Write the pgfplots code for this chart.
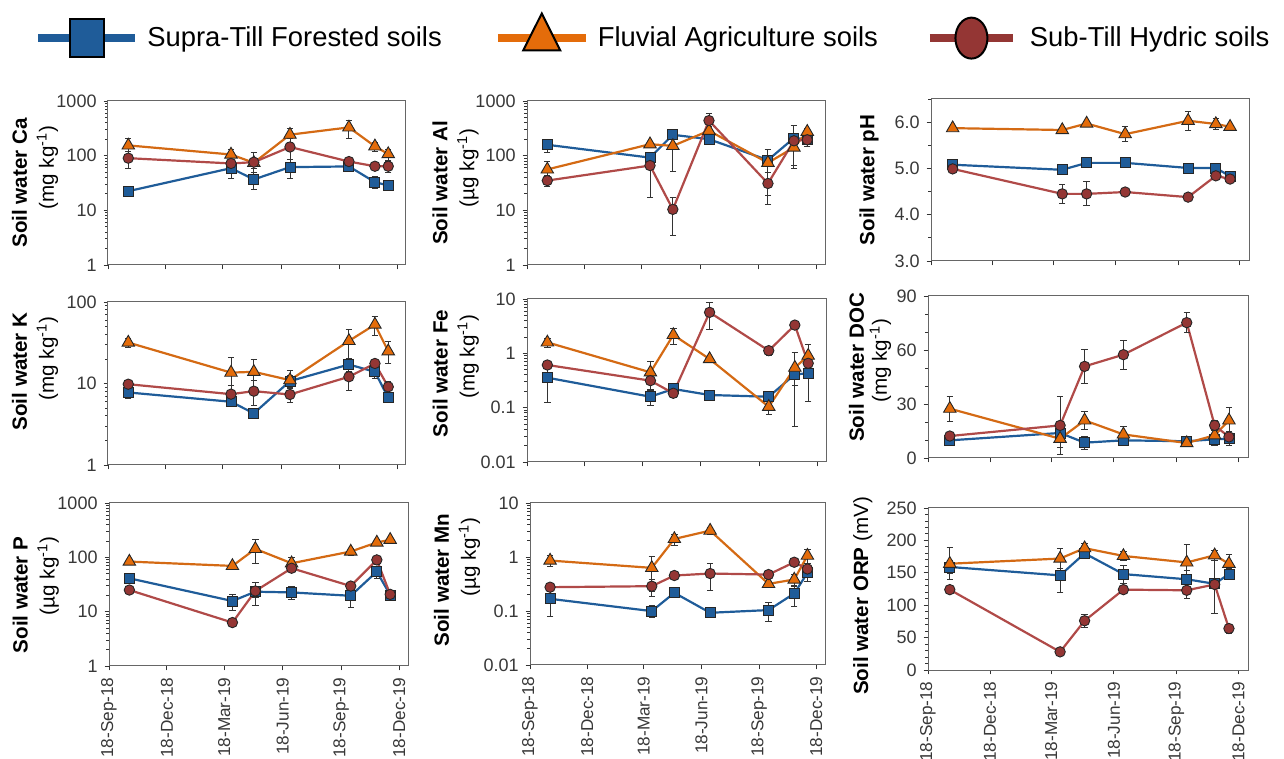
\documentclass[border=0pt]{standalone}
\usepackage{fontspec}
\setmainfont{Liberation Sans}
\usepackage{pgfplots}
\pgfplotsset{compat=1.18}

\definecolor{cBlue}{HTML}{1F5C99}
\definecolor{cOrange}{HTML}{E46C0A}
\definecolor{cOrangeL}{HTML}{D46A14}
\definecolor{cRed}{HTML}{943634}
\definecolor{cRedL}{HTML}{B04A48}

\pgfplotsset{
 sB/.style={cBlue, line width=1.1pt, mark=square*, mark size=2.5pt,
   mark options={solid, fill=cBlue, draw=black!85, line width=0.45pt}, forget plot,
   error bars/y dir=both, error bars/y explicit,
   error bars/error bar style={black!80, line width=0.45pt},
   error bars/error mark options={rotate=90, black!80, mark size=1.6pt, line width=0.45pt}},
 sO/.style={cOrangeL, line width=1.1pt, mark=triangle*, mark size=3.6pt,
   mark options={solid, fill=cOrange, draw=black!85, line width=0.45pt}, forget plot,
   error bars/y dir=both, error bars/y explicit,
   error bars/error bar style={black!80, line width=0.45pt},
   error bars/error mark options={rotate=90, black!80, mark size=1.6pt, line width=0.45pt}},
 sR/.style={cRedL, line width=1.1pt, mark=*, mark size=2.6pt,
   mark options={solid, fill=cRed, draw=black!85, line width=0.45pt}, forget plot,
   error bars/y dir=both, error bars/y explicit,
   error bars/error bar style={black!80, line width=0.45pt},
   error bars/error mark options={rotate=90, black!80, mark size=1.6pt, line width=0.45pt}},
 legA/.style={legend image code/.code={\draw[mark repeat=2, mark phase=2, ##1] plot coordinates {(0pt,0pt) (24.25pt,0pt) (48.5pt,0pt)}; \path (50.5pt,0pt);}},
 legB/.style={legend image code/.code={\draw[mark repeat=2, mark phase=2, ##1] plot coordinates {(0pt,0pt) (22pt,0pt) (44pt,0pt)}; \path (46pt,0pt);}},
 legC/.style={legend image code/.code={\draw[mark repeat=2, mark phase=2, ##1] plot coordinates {(0pt,0pt) (20.75pt,0pt) (41.5pt,0pt)}; \path (46pt,0pt);}},
 panel/.style={
  scale only axis, anchor=north west,
  xmin=0, xmax=470, xtick={0,91,181,273,365,456}, xticklabels={},
  tick align=outside, xtick pos=left, ytick pos=left,
  major tick length=2.2pt, minor tick length=1.3pt,
  axis line style={black!60, line width=0.5pt},
  every tick/.style={black!80, line width=0.45pt},
  tick label style={font=\fontsize{9}{10}\selectfont, text=black!78},
  clip=false,
  every axis y label/.style={rotate=90, anchor=center, align=center,
     font=\fontsize{10.3}{13.5}\selectfont, text=black},
 },
 datex/.style={xticklabels={18-Sep-18,18-Dec-18,18-Mar-19,18-Jun-19,18-Sep-19,18-Dec-19},
   x tick label style={rotate=90, anchor=east, font=\fontsize{8.6}{10}\selectfont}},
}

\begin{document}
\begin{tikzpicture}
\useasboundingbox (0,0) rectangle (642pt,379.5pt);

% ---------- Ca ----------
\begin{axis}[panel, at={(54pt,329pt)}, width=149pt, height=82pt,
  ymode=log, ymin=1, ymax=1000, ytick={1,10,100,1000}, yticklabels={1,10,100,1000},
  minor ytick={2,3,4,5,6,7,8,9,20,30,40,50,60,70,80,90,200,300,400,500,600,700,800,900},
  ylabel={{\bfseries Soil water Ca}\\\hspace*{15.5pt}(mg kg\textsuperscript{-1})},
  ylabel style={at={(axis description cs:-0.245,0.5)}},
  legend columns=3,
  legend style={at={(axis description cs:-0.2484,1.396)}, anchor=west, draw=none, fill=none,
    inner sep=0pt, font=\fontsize{13.7}{16}\selectfont,
    /tikz/column 2/.style={column sep=24pt}, /tikz/column 4/.style={column sep=22pt}}]
\addlegendimage{legA, cBlue, line width=4pt, mark=square*, mark size=8.5pt,
   mark options={solid, fill=cBlue, draw=black, line width=1pt, yscale=1.1}}
\addlegendentry{Supra-Till Forested soils}
\addlegendimage{legB, cOrange, line width=4pt, mark=triangle*, mark size=10.7pt,
   mark options={solid, fill=cOrange, draw=black, line width=1pt, yscale=1.15}}
\addlegendentry{Fluvial Agriculture soils}
\addlegendimage{legC, cRed, line width=4pt, mark=*, mark size=8pt,
   mark options={solid, fill=cRed, draw=black, line width=1pt, yscale=1.28}}
\addlegendentry{Sub-Till Hydric soils}
\addplot[sB] coordinates {(32,22.4)+-(0,4) (194,59)+-(0,20) (230,36.7)+-(0,13) (287,61.7)+-(0,24) (380,63.5)+-(0,8) (421,32.8)+-(0,8) (442,28.5)+-(0,3)};
\addplot[sO] coordinates {(32,154)+-(0,56) (194,105)+-(0,25) (230,74)+-(0,15) (287,242)+-(0,70) (380,329)+-(0,120) (421,148)+-(0,30) (442,107)+-(0,25)};
\addplot[sR] coordinates {(32,90)+-(0,31) (194,72)+-(0,12) (230,76)+-(0,40) (287,144)+-(0,60) (380,78)+-(0,8) (421,64)+-(0,10) (442,64)+-(0,15)};
\end{axis}

% ---------- Al ----------
\begin{axis}[panel, at={(263.5pt,329pt)}, width=149pt, height=82pt,
  ymode=log, ymin=1, ymax=1000, ytick={1,10,100,1000}, yticklabels={1,10,100,1000},
  minor ytick={2,3,4,5,6,7,8,9,20,30,40,50,60,70,80,90,200,300,400,500,600,700,800,900},
  ylabel={{\bfseries Soil water Al}\\\hspace*{15pt}(µg kg\textsuperscript{-1})},
  ylabel style={at={(axis description cs:-0.24,0.5)}}]
\addplot[sB] coordinates {(32,158)+-(0,42) (194,92)+-(0,10) (230,241)+-(0,30) (287,200)+-(0,20) (380,83)+-(0,20) (421,210)+-(0,145) (442,200)+-(0,50)};
\addplot[sO] coordinates {(32,56)+-(0,23) (194,162)+-(0,20) (230,151)+-(0,100) (287,286)+-(0,60) (380,74)+-(0,55) (421,141)+-(0,83) (442,274)+-(0,40)};
\addplot[sR] coordinates {(32,35)+-(0,8) (194,66)+-(0,49) (230,10.4)+-(0,7) (287,438)+-(0,145) (380,31)+-(0,18) (421,187)+-(0,60) (442,195)+-(0,50)};
\end{axis}

% ---------- pH ----------
\begin{axis}[panel, at={(465.5pt,330pt)}, width=159pt, height=81pt,
  ymin=3, ymax=6.5, ytick={3,4,5,6}, yticklabels={3.0,4.0,5.0,6.0}, minor ytick={3.5,4.5,5.5,6.5},
  ylabel={\bfseries Soil water pH},
  ylabel style={at={(axis description cs:-0.195,0.5)}}]
\addplot[sB] coordinates {(32,5.08)+-(0,0.03) (194,4.97)+-(0,0.03) (230,5.12)+-(0,0.06) (287,5.12)+-(0,0.03) (380,5.01)+-(0,0.03) (421,5.01)+-(0,0.03) (442,4.83)+-(0,0.04)};
\addplot[sO] coordinates {(32,5.87)+-(0,0.03) (194,5.83)+-(0,0.03) (230,5.97)+-(0,0.05) (287,5.74)+-(0,0.16) (380,6.03)+-(0,0.2) (421,5.96)+-(0,0.12) (442,5.90)+-(0,0.03)};
\addplot[sR] coordinates {(32,4.99)+-(0,0.03) (194,4.45)+-(0,0.2) (230,4.45)+-(0,0.26) (287,4.49)+-(0,0.05) (380,4.38)+-(0,0.03) (421,4.84)+-(0,0.04) (442,4.77)+-(0,0.05)};
\end{axis}

% ---------- K ----------
\begin{axis}[panel, at={(54pt,228.5pt)}, width=149pt, height=81.5pt,
  ymode=log, ymin=1, ymax=100, ytick={1,10,100}, yticklabels={1,10,100},
  minor ytick={2,3,4,5,6,7,8,9,20,30,40,50,60,70,80,90},
  ylabel={{\bfseries Soil water K}\\\hspace*{13pt}(mg kg\textsuperscript{-1})},
  ylabel style={at={(axis description cs:-0.245,0.574)}}]
\addplot[sB] coordinates {(32,7.76)+-(0,1.2) (194,5.97)+-(0,0.8) (230,4.3)+-(0,0.3) (287,10.7)+-(0,2) (380,17.1)+-(0,3) (421,13.9)+-(0,2.5) (442,6.67)+-(0,0.8)};
\addplot[sO] coordinates {(32,31.8)+-(0,4) (194,13.6)+-(0,7) (230,13.9)+-(0,6) (287,11.0)+-(0,3.5) (380,33.3)+-(0,13) (421,52.8)+-(0,14) (442,24.9)+-(0,7.5)};
\addplot[sR] coordinates {(32,9.8)+-(0,1) (194,7.4)+-(0,2) (230,8.05)+-(0,2.7) (287,7.33)+-(0,1.5) (380,12.1)+-(0,3.8) (421,17.6)+-(0,2) (442,9.1)+-(0,1.5)};
\end{axis}

% ---------- Fe ----------
\begin{axis}[panel, at={(263.5pt,230pt)}, width=149.5pt, height=81.5pt,
  ymode=log, ymin=0.01, ymax=10, ytick={0.01,0.1,1,10}, yticklabels={0.01,0.1,1,10},
  minor ytick={0.02,0.03,0.04,0.05,0.06,0.07,0.08,0.09,0.2,0.3,0.4,0.5,0.6,0.7,0.8,0.9,2,3,4,5,6,7,8,9},
  ylabel={{\bfseries Soil water Fe}\\\hspace*{17pt}(mg kg\textsuperscript{-1})},
  ylabel style={at={(axis description cs:-0.238,0.543)}}]
\addplot[sB] coordinates {(32,0.356)+-(0,0.23) (194,0.159)+-(0,0.05) (230,0.221)+-(0,0.04) (287,0.171)+-(0,0.01) (380,0.159)+-(0,0.02) (421,0.41)+-(0,0.15) (442,0.428)+-(0,0.3)};
\addplot[sO] coordinates {(32,1.59)+-(0,0.3) (194,0.447)+-(0,0.25) (230,2.18)+-(0,0.7) (287,0.786)+-(0,0.05) (380,0.104)+-(0,0.03) (421,0.545)+-(0,0.5) (442,0.906)+-(0,0.55)};
\addplot[sR] coordinates {(32,0.61)+-(0,0.05) (194,0.314)+-(0,0.1) (230,0.184)+-(0,0.03) (287,5.68)+-(0,2.9) (380,1.12)+-(0,0.2) (421,3.31)+-(0,0.3) (442,0.655)+-(0,0.1)};
\end{axis}

% ---------- DOC ----------
\begin{axis}[panel, at={(464pt,231.5pt)}, width=160pt, height=81pt,
  ymin=0, ymax=90, ytick={0,30,60,90}, yticklabels={0,30,60,90}, minor ytick={10,20,40,50,70,80},
  ylabel={{\bfseries Soil water DOC}\\\hspace*{6.5pt}(mg kg\textsuperscript{-1})},
  ylabel style={at={(axis description cs:-0.181,0.559)}, font=\fontsize{10.3}{11.5}\selectfont}]
\addplot[sB] coordinates {(32,9.8)+-(0,3) (194,13.9)+-(0,3) (230,8.5)+-(0,3.5) (287,9.8)+-(0,3) (380,9.3)+-(0,1) (421,10.4)+-(0,3.5) (442,10.7)+-(0,4)};
\addplot[sO] coordinates {(32,27.4)+-(0,7) (194,10.7)+-(0,5) (230,20.9)+-(0,5) (287,13.1)+-(0,4.5) (380,8.3)+-(0,1) (421,12.6)+-(0,3) (442,20.9)+-(0,7)};
\addplot[sR] coordinates {(32,12.2)+-(0,2) (194,18.1)+-(0,16) (230,50.9)+-(0,9.5) (287,57.4)+-(0,8) (380,75.2)+-(0,5.6) (421,18.1)+-(0,3) (442,11.7)+-(0,3)};
\end{axis}

% ---------- P ----------
\begin{axis}[panel, datex, at={(54.5pt,128pt)}, width=149.5pt, height=81.5pt,
  ymode=log, ymin=1, ymax=1000, ytick={1,10,100,1000}, yticklabels={1,10,100,1000},
  minor ytick={2,3,4,5,6,7,8,9,20,30,40,50,60,70,80,90,200,300,400,500,600,700,800,900},
  ylabel={{\bfseries Soil water P}\\\hspace*{19pt}(µg kg\textsuperscript{-1})},
  ylabel style={at={(axis description cs:-0.245,0.436)}}]
\addplot[sB] coordinates {(32,41.1)+-(0,3) (194,15.7)+-(0,5.3) (230,23.3)+-(0,5) (287,22.6)+-(0,6) (380,19.6)+-(0,7.5) (421,54.6)+-(0,13) (442,20.2)+-(0,3)};
\addplot[sO] coordinates {(32,83.5)+-(0,8) (194,69.5)+-(0,6) (230,143)+-(0,67) (287,77.8)+-(0,20) (380,128)+-(0,20) (421,187.5)+-(0,25) (442,210)+-(0,15)};
\addplot[sR] coordinates {(32,25)+-(0,2) (194,6.3)+-(0,1) (230,24)+-(0,11) (287,63)+-(0,8) (380,29.6)+-(0,3) (421,89.7)+-(0,15) (442,20.8)+-(0,3)};
\end{axis}

% ---------- Mn ----------
\begin{axis}[panel, datex, at={(265pt,128pt)}, width=147.5pt, height=81pt,
  ymode=log, ymin=0.01, ymax=10, ytick={0.01,0.1,1,10}, yticklabels={0.01,0.1,1,10},
  minor ytick={0.02,0.03,0.04,0.05,0.06,0.07,0.08,0.09,0.2,0.3,0.4,0.5,0.6,0.7,0.8,0.9,2,3,4,5,6,7,8,9},
  ylabel={{\bfseries Soil water Mn}\\\hspace*{23pt}(µg kg\textsuperscript{-1})},
  ylabel style={at={(axis description cs:-0.247,0.525)}}]
\addplot[sB] coordinates {(32,0.168)+-(0,0.09) (194,0.0995)+-(0,0.025) (230,0.217)+-(0,0.02) (287,0.0927)+-(0,0.005) (380,0.104)+-(0,0.04) (421,0.211)+-(0,0.09) (442,0.508)+-(0,0.15)};
\addplot[sO] coordinates {(32,0.859)+-(0,0.2) (194,0.629)+-(0,0.4) (230,2.16)+-(0,0.5) (287,3.08)+-(0,0.5) (380,0.318)+-(0,0.03) (421,0.383)+-(0,0.1) (442,1.06)+-(0,0.3)};
\addplot[sR] coordinates {(32,0.276)+-(0,0.05) (194,0.288)+-(0,0.1) (230,0.454)+-(0,0.05) (287,0.494)+-(0,0.25) (380,0.473)+-(0,0.03) (421,0.80)+-(0,0.05) (442,0.6)+-(0,0.05)};
\end{axis}

% ---------- ORP ----------
\begin{axis}[panel, datex, at={(464pt,125.5pt)}, width=160pt, height=81pt,
  ymin=0, ymax=250, ytick={0,50,100,150,200,250}, yticklabels={0,50,100,150,200,250}, minor y tick num=4,
  ylabel={{\bfseries Soil water ORP} (mV)},
  ylabel style={at={(axis description cs:-0.204,0.457)}}]
\addplot[sB] coordinates {(32,159)+-(0,10) (194,146)+-(0,26) (230,180)+-(0,5) (287,148)+-(0,14) (380,140)+-(0,13) (421,133)+-(0,45) (442,148)+-(0,8)};
\addplot[sO] coordinates {(32,164)+-(0,25) (194,172)+-(0,16) (230,188)+-(0,8) (287,176)+-(0,7) (380,166)+-(0,28) (421,177)+-(0,8) (442,164)+-(0,14)};
\addplot[sR] coordinates {(32,124)+-(0,5) (194,28)+-(0,4) (230,76)+-(0,10) (287,124)+-(0,5) (380,123)+-(0,13) (421,132)+-(0,6) (442,64)+-(0,7)};
\end{axis}
\end{tikzpicture}
\end{document}
